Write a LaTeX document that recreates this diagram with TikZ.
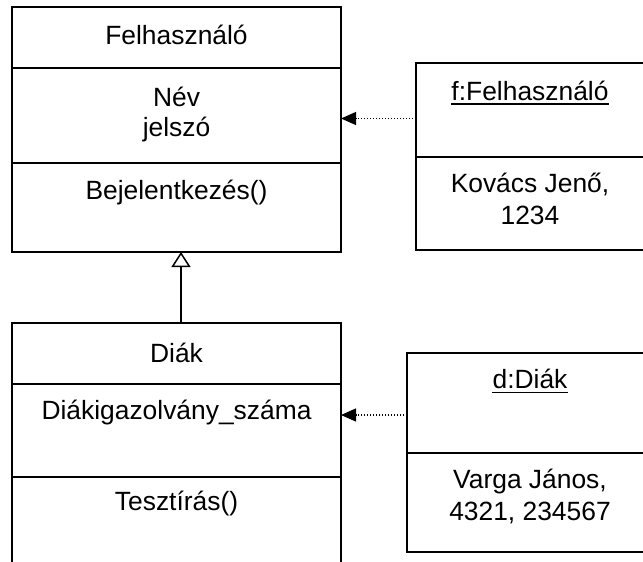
\documentclass[tikz,border=0pt]{standalone}
\usepackage{fontspec}
\setmainfont{Liberation Sans}
\usetikzlibrary{arrows.meta}
\begin{document}
\begin{tikzpicture}[x=1pt,y=-1pt,
  comp/.style={draw, line width=1.8pt, rectangle, inner sep=0pt, outer sep=0pt, anchor=north west},
  txt/.style={font=\fontsize{26.4}{31}\selectfont, inner sep=0pt, anchor=base},
  uline/.style={line width=1.8pt},
  dep/.style={line width=1.2pt, dash pattern=on 1.4pt off 1.6pt, -{Triangle[length=15pt,width=13pt]}},
  gen/.style={line width=1.8pt, -{Triangle[open, length=15pt, width=19pt, line width=1.5pt]}}]
\useasboundingbox (0,0) rectangle (643,562);
\clip (0,0) rectangle (643,562);

% Felhasználó class
\node[comp, minimum width=329pt, minimum height=61pt] (uname) at (12,7) {};
\node[comp, minimum width=329pt, minimum height=95pt] (uattr) at (12,68) {};
\node[comp, minimum width=329pt, minimum height=89pt] (uop) at (12,163) {};
\node[txt] (tuname) at (176.5,44.5) {Felhasználó};
\node[txt] (tuattr1) at (176.5,106.5) {Név};
\node[txt] (tuattr2) at (176.5,136.5) {jelszó};
\node[txt] (tuop) at (176.5,199.5) {Bejelentkezés()};

% Diák class
\node[comp, minimum width=329pt, minimum height=61pt] (dname) at (12,323) {};
\node[comp, minimum width=329pt, minimum height=93pt] (dattr) at (12,384) {};
\node[comp, minimum width=329pt, minimum height=130pt] (dop) at (12,477) {};
\node[txt] (tdname) at (176.5,362.5) {Diák};
\node[txt] (tdattr) at (176.5,419) {Diákigazolvány\_száma};
\node[txt] (tdop) at (176.5,510) {Tesztírás()};

% f:Felhasználó object
\node[comp, minimum width=300pt, minimum height=94pt] (fname) at (416,63) {};
\node[comp, minimum width=300pt, minimum height=93pt] (fattr) at (416,157) {};
\node[txt] (tfname) at (530,100) {f:Felhasználó};
\draw[uline] ([yshift=-4pt]tfname.base west) -- ([yshift=-4pt]tfname.base east);
\node[txt] (tfattr1) at (530,192) {Kovács Jenő,};
\node[txt] (tfattr2) at (530,224) {1234};

% d:Diák object
\node[comp, minimum width=300pt, minimum height=100pt] (oname) at (407,353) {};
\node[comp, minimum width=300pt, minimum height=99pt] (oattr) at (407,453) {};
\node[txt] (toname) at (530,388) {d:Diák};
\draw[uline] ([yshift=-4.5pt]toname.base west) -- ([yshift=-4.5pt]toname.base east);
\node[txt] (toattr1) at (530,488) {Varga János,};
\node[txt] (toattr2) at (530,520) {4321, 234567};

% connectors
\coordinate (ya) at (0,118.5);
\coordinate (yb) at (0,415);
\coordinate (gx) at (181,0);
\draw[dep] (fname.west |- ya) -- (uattr.east |- ya);
\draw[dep] (oname.west |- yb) -- (dattr.east |- yb);
\draw[gen] (dname.north -| gx) -- (uop.south -| gx);
\end{tikzpicture}
\end{document}
